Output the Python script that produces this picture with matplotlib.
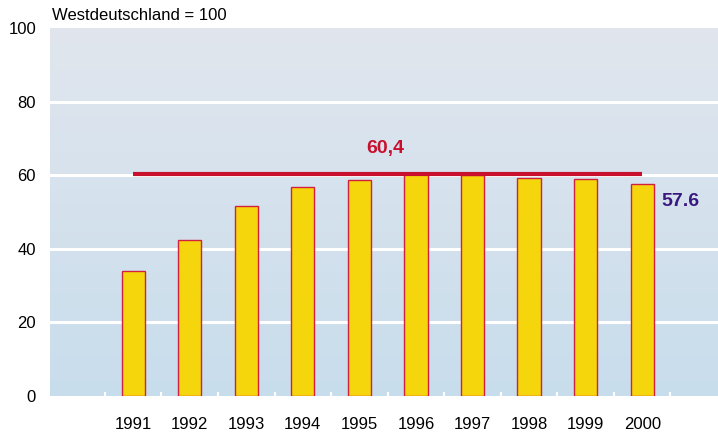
import matplotlib
matplotlib.use("Agg")
import matplotlib.pyplot as plt
import numpy as np
from matplotlib.colors import LinearSegmentedColormap

plt.rcParams['font.family'] = ['Liberation Sans', 'DejaVu Sans']

years = ["1991", "1992", "1993", "1994", "1995", "1996", "1997", "1998", "1999", "2000"]
values = [34.1, 42.4, 51.7, 56.9, 58.8, 60.3, 60.1, 59.2, 59.0, 57.6]
avg_value = 60.4
avg_label = "60,4"
last_label = "57.6"
yticks = [0, 20, 40, 60, 80, 100]

fig = plt.figure(figsize=(7.18, 4.34), dpi=100)
ax = fig.add_axes([50/718, 38/434, 668/718, 368/434])

x = np.arange(len(years))
xlim = (-1.47, 10.34)
ax.set_xlim(*xlim)
ax.set_ylim(0, 100)

# gradient background
cmap = LinearSegmentedColormap.from_list("bg", ["#c8ddec", "#e1e6ee"])
grad = np.linspace(0, 1, 256).reshape(-1, 1)
ax.imshow(grad, aspect='auto', cmap=cmap, origin='lower',
          extent=[xlim[0], xlim[1], 0, 100], zorder=0)

for t in yticks[1:-1]:
    ax.axhline(t, color='white', lw=2.2, zorder=1)

ax.bar(x, values, width=0.41, color='#f5d60c', edgecolor='#d2203e', linewidth=1.0, zorder=3)

ax.plot([x[0], x[-1]], [avg_value, avg_value], color='#c8102e', lw=3, zorder=4, solid_capstyle='butt')
ax.text(4.45, avg_value + 6.8, avg_label, color='#c8102e',
        fontsize=14, fontweight='bold', ha='center', va='center', zorder=5)
ax.text(x[-1] + 0.34, values[-1] - 4.8, last_label, color='#3a1880',
        fontsize=14, fontweight='bold', ha='left', va='center', zorder=5)

for s in ax.spines.values():
    s.set_visible(False)

ax.set_yticks(yticks)
ax.set_yticklabels([str(t) for t in yticks], fontsize=12)
ax.tick_params(axis='y', length=0, pad=10)

ax.set_xticks(x)
ax.set_xticklabels(years, fontsize=12)
ax.tick_params(axis='x', which='major', length=0, pad=15)
ax.set_xticks(np.arange(-0.5, len(years)), minor=True)
ax.tick_params(axis='x', which='minor', direction='in', length=3, width=1.5, color='white')
for tl in ax.get_xticklines(minor=True):
    tl.set_zorder(6)

fig.text(52/718, 1 - 15/434, "Westdeutschland = 100", fontsize=12, ha='left', va='center')

fig.savefig("out.png", dpi=100)
